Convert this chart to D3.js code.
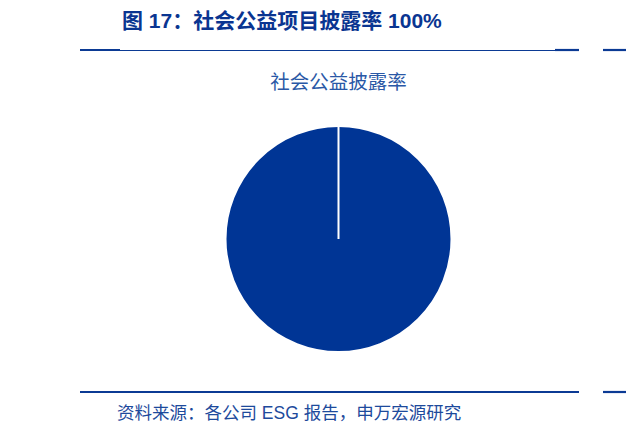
<!DOCTYPE html>
<html>
<head>
<meta charset="utf-8">
<script src="https://cdn.jsdelivr.net/npm/d3@7"></script>
<style>
  body { margin: 0; background: #fff; }
  svg { display: block; }
</style>
</head>
<body>
<svg id="grafico" width="626" height="434"></svg>
<script>
const titulo = "图 17：社会公益项目披露率 100%";
const subtitulo = "社会公益披露率";
const fonte = "资料来源：各公司 ESG 报告，申万宏源研究";

const categorias = ["已披露", "未披露"];
const valores = [100, 0];

const W = 626;
const H = 434;
const azul = "#003595";
const fontes = "'Liberation Sans', 'Noto Sans CJK SC', sans-serif";

const svg = d3.select("#grafico");

// título
svg.append("text")
  .attr("x", 122)
  .attr("y", 28)
  .attr("font-family", fontes)
  .attr("font-size", "21px")
  .attr("font-weight", "700")
  .attr("fill", "#0a3591")
  .text(titulo);

// linhas do cabeçalho e rodapé
const linhas = [
  { x1: 80, x2: 120, y: 50, w: 2.2 },
  { x1: 120, x2: 555, y: 50.5, w: 1 },
  { x1: 555, x2: 579, y: 50, w: 2.2 },
  { x1: 603, x2: 626, y: 50, w: 2.2 },
  { x1: 80, x2: 579, y: 392, w: 2.2 },
  { x1: 603, x2: 626, y: 392, w: 2.2 }
];
svg.selectAll("line.regua")
  .data(linhas)
  .join("line")
  .attr("class", "regua")
  .attr("x1", (d) => d.x1)
  .attr("x2", (d) => d.x2)
  .attr("y1", (d) => d.y)
  .attr("y2", (d) => d.y)
  .attr("stroke", "#0b3a94")
  .attr("stroke-width", (d) => d.w);

svg.append("text")
  .attr("x", 338.5)
  .attr("y", 89)
  .attr("text-anchor", "middle")
  .attr("font-family", fontes)
  .attr("font-size", "19.5px")
  .attr("fill", "#2a58a6")
  .text(subtitulo);

// pizza
const raio = 113;
const pie = d3.pie().sort(null).value((d) => d);
const arc = d3.arc().innerRadius(0).outerRadius(raio);

const g = svg.append("g").attr("transform", "translate(338.5,239)");
g.selectAll("path")
  .data(pie(valores))
  .join("path")
  .attr("d", arc)
  .attr("fill", azul)
  .attr("stroke", "#fff")
  .attr("stroke-width", 2)
  .append("title")
  .text((d, i) => `${categorias[i]} ${d.data}%`);

svg.append("text")
  .attr("x", 117)
  .attr("y", 419)
  .attr("font-family", fontes)
  .attr("font-size", "17.5px")
  .attr("fill", "#1d4a9c")
  .text(fonte);
</script>
</body>
</html>
